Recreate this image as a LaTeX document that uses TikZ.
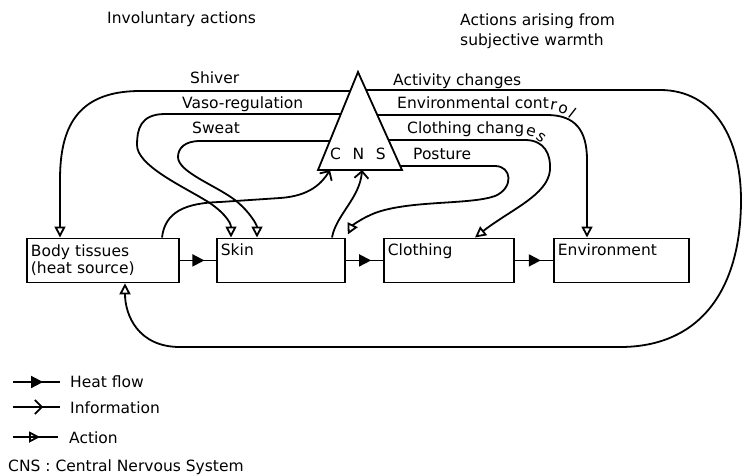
\documentclass[tikz,border=0pt]{standalone}
\usepackage{fontspec}
\setmainfont{DejaVu Sans}
\usetikzlibrary{arrows.meta,decorations.markings,calc}
\newcommand\lblfont{\fontsize{15.5}{17}\selectfont}
\tikzset{
  ln/.style={line width=1.8pt},
  box/.style={draw, line width=1.8pt, minimum height=44pt, inner xsep=4pt, inner ysep=0pt,
    align=left, anchor=north west, font=\lblfont},
  lab/.style={anchor=base west, inner sep=0pt, font=\lblfont},
  act/.style={ln, -{Triangle[open,length=11pt,width=11pt]}},
  info/.style={ln, -{Straight Barb[length=7pt,width=14pt]}},
  heat/.style={ln, postaction={decorate}, decoration={markings,
    mark=at position #1 with {\arrow{Triangle[length=12pt,width=12pt]}}}},
  infomid/.style={ln, postaction={decorate}, decoration={markings,
    mark=at position #1 with {\arrow{Straight Barb[length=7pt,width=14pt]}}}},
  actmid/.style={ln, postaction={decorate}, decoration={markings,
    mark=at position #1 with {\arrow{Triangle[open,length=11pt,width=11pt]}}}},
}
\begin{document}
\begin{tikzpicture}[x=1pt,y=-1pt]
\useasboundingbox (0,0) rectangle (744,475);

% headers
\node[lab] (invol) at (107,23) {Involuntary actions};
\node[lab] (arise1) at (460,25) {Actions arising from};
\node[lab] (arise2) at (460,45) {subjective warmth};

% CNS triangle
\coordinate (apex) at (358,72);
\coordinate (tl) at (318,170);
\coordinate (tr) at (402,170);
\draw[ln, line join=miter] (apex) -- (tl) -- (tr) -- cycle;
\node[lab] (cns) at (330,159) {C\hspace{0.75em}N\hspace{0.75em}S};

% boxes
\node[box, minimum width=152pt, text width=144pt] (body) at (26,237.5) {Body tissues\\(heat source)};
\node[box, minimum width=128pt, text width=120pt] (skin) at (216,237.5) {Skin\\\strut};
\node[box, minimum width=130pt, text width=122pt] (cloth) at (383,237.5) {Clothing\\\strut};
\node[box, minimum width=135pt, text width=127pt] (env) at (553,237.5) {Environment\\\strut};

% heat flow
\draw[heat=0.68] (body.east) -- (skin.west);
\draw[heat=0.68] (skin.east) -- (cloth.west);
\draw[heat=0.68] (cloth.east) -- (env.west);

% labels left
\node[lab] (shiver) at (190,83) {Shiver};
\node[lab] (vaso) at (182,108) {Vaso-regulation};
\node[lab] (sweat) at (192,133) {Sweat};
% labels right
\node[lab] (activity) at (393,85) {Activity changes};
\node[lab] (envctl) at (397,108) {Environmental cont};
\node[lab, rotate=-10] (ec1) at ($(envctl.base east)+(0.5,1)$) {r};
\node[lab, rotate=-22] (ec2) at ($(ec1.base east)+(0.8,1)$) {o};
\node[lab, rotate=-38] (ec3) at ($(ec2.base east)+(0.8,1)$) {l};
\node[lab] (clch) at (407,133) {Clothing chang};
\node[lab, rotate=-18] (cc1) at ($(clch.base east)+(0.5,1)$) {e};
\node[lab, rotate=-38] (cc2) at ($(cc1.base east)+(0.8,1)$) {s};
\node[lab] (posture) at (413,159) {Posture};

% involuntary actions
\draw[act] ($(apex)!0.194!(tl)$) -- (140,91) .. controls (75,91) and (60,130) .. (60,180)
  -- ($(body.north west)+(34,0)$);
\draw[act] ($(apex)!0.429!(tl)$) -- (165,114) .. controls (140,114) and (137,130) .. (137,145)
  .. controls (137,165) and (180,185) .. (205,200) .. controls (222,210) and (231,222)
  .. ($(skin.north west)+(15,0)$);
\draw[act] ($(apex)!0.704!(tl)$) -- (200,141) .. controls (185,141) and (178,148) .. (178,157)
  .. controls (178,172) and (215,185) .. (235,200) .. controls (250,212) and (257,225)
  .. ($(skin.north west)+(41,0)$);

% information
\draw[info] ($(body.north west)+(136,0)$) .. controls (165,212) and (185,203) .. (220,202)
  -- (280,198) .. controls (310,196) and (322,183) .. ($(tl)!0.143!(tr)$);
\draw[info] ($(skin.north west)+(116,0)$) .. controls (336,215) and (360,198) .. ($(tl)!0.524!(tr)$);

% actions from subjective warmth
\draw[act] ($(apex)!0.184!(tr)$) -- (660,90) .. controls (715,90) and (741,140) .. (741,200)
  .. controls (741,290) and (700,347) .. (620,347) -- (180,347)
  .. controls (138,347) and (125,315) .. ($(body.south west)+(99,0)$);
\draw[act] ($(apex)!0.439!(tr)$) -- (547,115) .. controls (575,115) and (587,130) .. (587,160)
  -- ($(env.north west)+(34,0)$);
\draw[act] ($(apex)!0.694!(tr)$) -- (525,140) .. controls (545,140) and (551,155) .. (550,170)
  .. controls (548,195) and (510,210) .. ($(cloth.north west)+(92,0)$);
\draw[act] ($(apex)!0.959!(tr)$) -- (495,166) .. controls (512,166) and (514,188) .. (495,196)
  .. controls (470,205) and (410,200) .. (375,213) .. controls (360,219) and (352,226)
  .. ($(skin.north east)+(2,-3)$);

% legend
\coordinate (hfa) at (13,382); \coordinate (hfb) at (60,382);
\coordinate (ifa) at (13,407); \coordinate (ifb) at (60,407);
\coordinate (aca) at (13,437); \coordinate (acb) at (58,437);
\draw[heat=0.64] (hfa) -- (hfb);
\draw[infomid=0.64] (ifa) -- (ifb);
\draw[actmid=0.6] (aca) -- (acb);
\node[lab] (lheat) at (70,387) {Heat flow};
\node[lab] (linfo) at (70,413) {Information};
\node[lab] (lact) at (69,443) {Action};
\node[lab] (lcns) at (8,471) {CNS : Central Nervous System};
\end{tikzpicture}
\end{document}
